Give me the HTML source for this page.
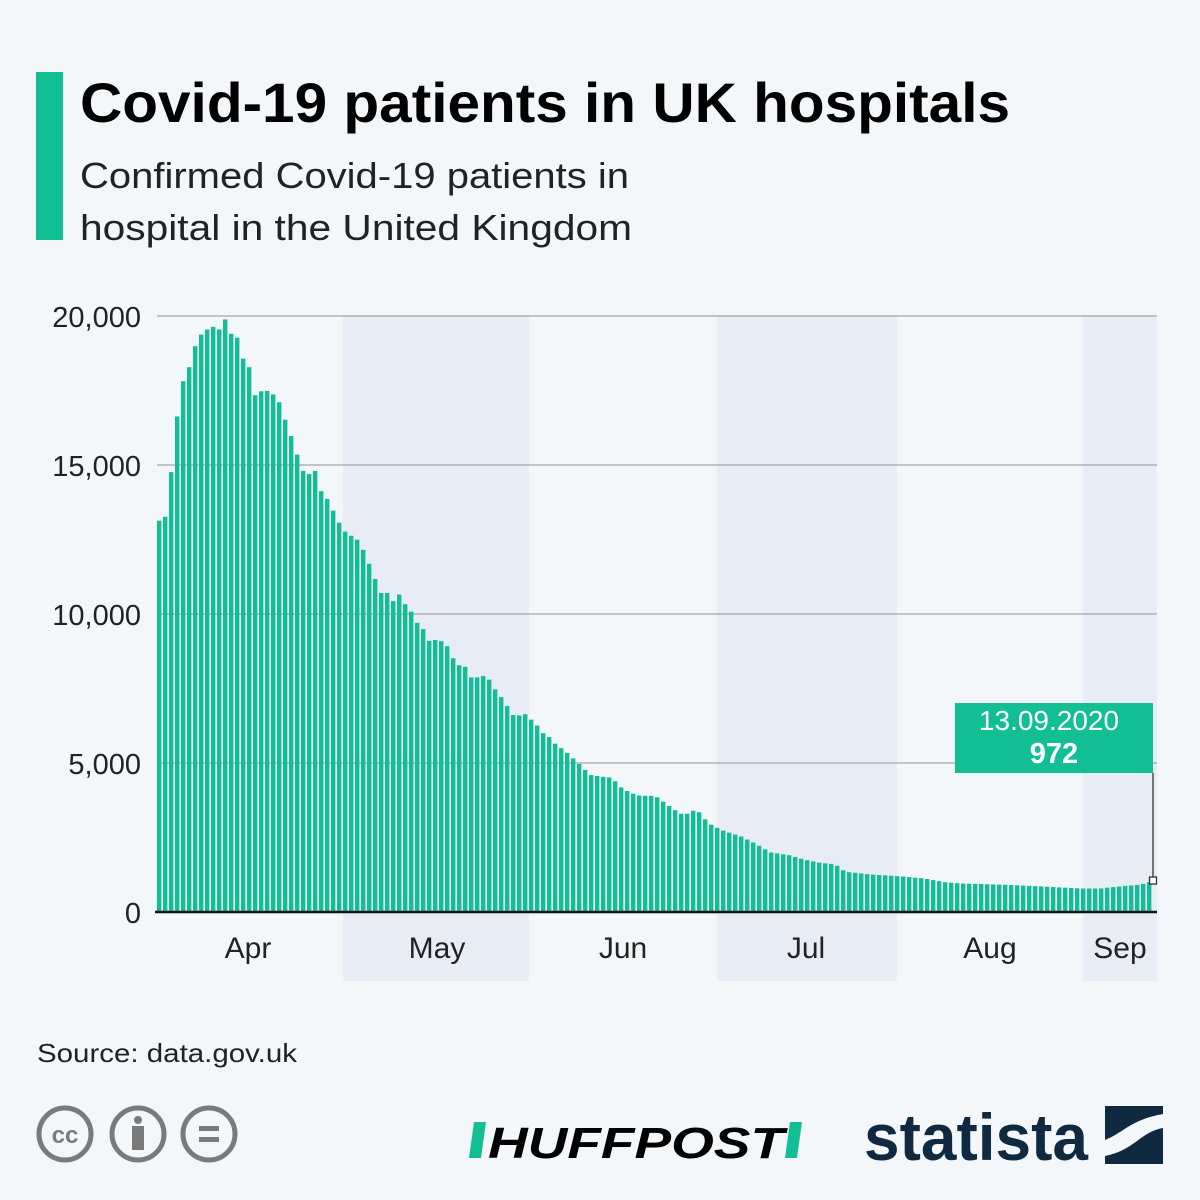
<!DOCTYPE html>
<html><head><meta charset="utf-8"><style>
body{margin:0;width:1200px;height:1200px;background:#f3f7fa;font-family:"Liberation Sans",sans-serif;overflow:hidden;position:relative}
</style></head><body>
<svg width="1200" height="1200" style="position:absolute;left:0;top:0" font-family="Liberation Sans, sans-serif">
<rect x="36" y="72" width="27" height="168" fill="#12bf95"/>
<text x="80" y="122" font-size="56" font-weight="bold" fill="#000" textLength="930" lengthAdjust="spacingAndGlyphs">Covid-19 patients in UK hospitals</text>
<text x="80" y="188" font-size="36" fill="#222" textLength="549" lengthAdjust="spacingAndGlyphs">Confirmed Covid-19 patients in</text>
<text x="80" y="240" font-size="36" fill="#222" textLength="552" lengthAdjust="spacingAndGlyphs">hospital in the United Kingdom</text>
<rect x="343" y="316" width="186" height="665" fill="#e8edf5"/>
<rect x="717" y="316" width="180" height="665" fill="#e8edf5"/>
<rect x="1083" y="316" width="74" height="665" fill="#e8edf5"/>
<g stroke="#a0a6ae" stroke-width="1.3">
<line x1="157" x2="1157" y1="316" y2="316"/><line x1="157" x2="1157" y1="465" y2="465"/>
<line x1="157" x2="1157" y1="614" y2="614"/><line x1="157" x2="1157" y1="763" y2="763"/>
</g>
<g font-size="29" fill="#222" text-anchor="end">
<text x="141" y="327">20,000</text><text x="141" y="476">15,000</text><text x="141" y="625">10,000</text><text x="141" y="774">5,000</text><text x="141" y="923">0</text>
</g>
<g id="bars" fill="#12bf95"></g>
<line x1="155" x2="1157" y1="912" y2="912" stroke="#111" stroke-width="2.5"/>
<g font-size="30" fill="#222" text-anchor="middle">
<text x="248" y="958">Apr</text><text x="437" y="958">May</text><text x="623" y="958">Jun</text><text x="806" y="958">Jul</text><text x="990" y="958">Aug</text><text x="1120" y="958">Sep</text>
</g>
<line x1="1153" x2="1153" y1="773" y2="880" stroke="#333" stroke-width="1.3"/>
<rect x="1149.5" y="877" width="7" height="7" fill="#fff" stroke="#333" stroke-width="1.3"/>
<rect x="955" y="703" width="198" height="70" fill="#12bf95"/>
<text x="1049" y="730" font-size="28" fill="#fff" text-anchor="middle">13.09.2020</text>
<text x="1054" y="763" font-size="29" font-weight="bold" fill="#fff" text-anchor="middle">972</text>
<text x="37" y="1062" font-size="26" fill="#222" textLength="260" lengthAdjust="spacingAndGlyphs">Source: data.gov.uk</text>
<g fill="none" stroke="#7a7a7a" stroke-width="5">
<circle cx="65" cy="1134" r="26"/><circle cx="138" cy="1134" r="26"/><circle cx="209" cy="1134" r="26"/>
</g>
<text x="65" y="1143" font-size="24" font-weight="bold" fill="#7a7a7a" text-anchor="middle">cc</text>
<circle cx="138" cy="1120" r="4" fill="#7a7a7a"/><rect x="132" y="1126" width="12" height="24" fill="#7a7a7a"/>
<rect x="199" y="1126" width="20" height="5" fill="#7a7a7a"/><rect x="199" y="1137" width="20" height="5" fill="#7a7a7a"/>
<polygon points="474,1122 486,1122 481,1158 469,1158" fill="#12bf95"/>
<polygon points="790,1122 802,1122 797,1158 785,1158" fill="#12bf95"/>
<text x="488" y="1158" font-size="44" font-weight="bold" font-style="italic" fill="#000" textLength="296" lengthAdjust="spacingAndGlyphs">HUFFPOST</text>
<text x="864" y="1160" font-size="66" font-weight="bold" fill="#0f2a40" textLength="224" lengthAdjust="spacingAndGlyphs">statista</text>
<rect x="1105" y="1106" width="58" height="58" fill="#0f2a40"/>
<path d="M1105,1140 C1125,1132 1130,1120 1163,1114 L1163,1128 C1140,1132 1135,1150 1105,1156 Z" fill="#f3f7fa"/>
</svg>
<script>
var z=[543,533,418,275,184,148,94,64,51,44,51,25,62,72,126,148,220,210,209,218,238,283,325,373,415,423,415,467,487,517,548,571,582,592,618,654,693,729,729,750,733,758,777,806,822,852,850,853,866,897,915,919,946,946,943,952,977,997,1020,1043,1044,1041,1055,1070,1090,1100];
var v=z.map(function(a){return (1550-a)*13.04;});
var kp=[[553,5700],[565,5400],[578,5000],[590,4600],[600,4550],[612,4500],[620,4200],[630,4000],[640,3900],[655,3900],[665,3650],[680,3300],[690,3300],[696,3500],[702,3200],[712,2900],[725,2700],[740,2550],[755,2300],[770,2000],[790,1900],[805,1750],[820,1650],[835,1600],[845,1350],[870,1260],[900,1200],[925,1120],[945,1000],[960,960],[1000,920],[1040,860],[1080,790],[1100,790],[1120,860],[1140,920],[1157,1070]];
var n=166,x0=157,p=6.0,g=document.getElementById('bars'),s='';
for(var i=0;i<n;i++){var x=x0+i*p,val;
 if(i<v.length)val=v[i];else{var c=x+2;val=kp[kp.length-1][1];
  for(var k=0;k<kp.length-1;k++){if(c>=kp[k][0]&&c<=kp[k+1][0]){var t=(c-kp[k][0])/(kp[k+1][0]-kp[k][0]);val=kp[k][1]+t*(kp[k+1][1]-kp[k][1]);break;}}
  if(c<kp[0][0])val=kp[0][1];}
 var h=val*0.0298;s+='<rect x="'+x.toFixed(1)+'" y="'+(912-h).toFixed(1)+'" width="4.4" height="'+h.toFixed(1)+'"/>';}
g.innerHTML=s;
</script>
</body></html>
